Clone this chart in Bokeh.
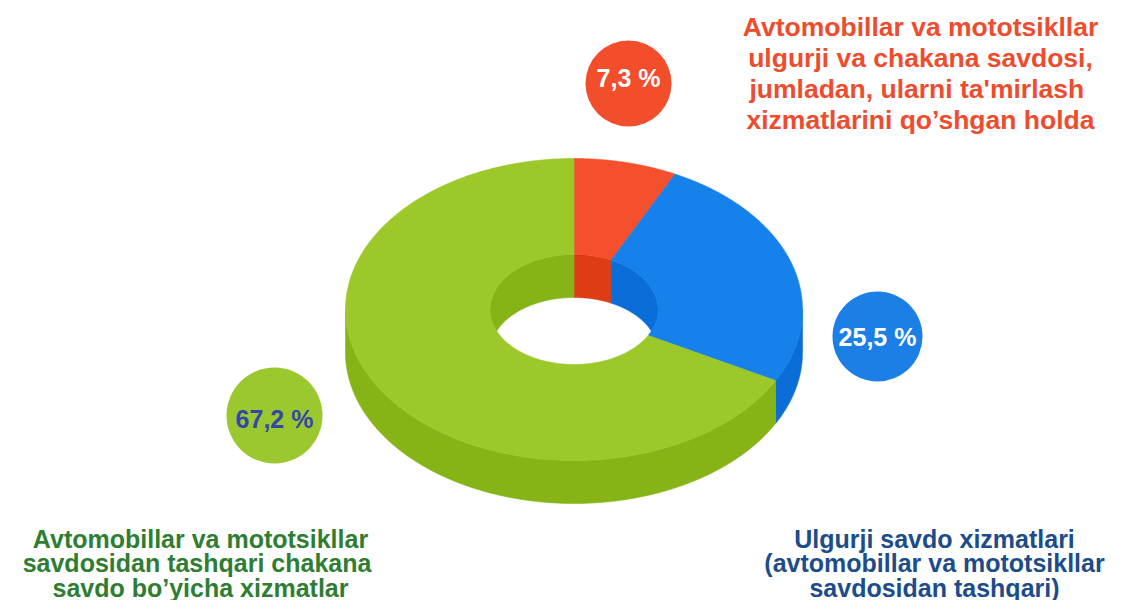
import numpy as np
from bokeh.plotting import figure
from bokeh.models import Range1d, ColumnDataSource
from bokeh.core.properties import value
from bokeh.embed import file_html
from bokeh.resources import INLINE

# ---------------- data ----------------
category_lines = [
    ["Avtomobillar va mototsikllar",
     "ulgurji va chakana savdosi,",
     "jumladan, ularni  ta'mirlash",
     "xizmatlarini qo\u2019shgan holda"],
    ["Ulgurji savdo xizmatlari",
     "(avtomobillar va mototsikllar",
     "savdosidan tashqari)"],
    ["Avtomobillar va mototsikllar",
     "savdosidan  tashqari chakana",
     "savdo bo\u2019yicha xizmatlar"],
]
values = [7.3, 25.5, 67.2]
pct_labels = ["7,3 %", "25,5 %", "67,2 %"]

# ---------------- styles ----------------
top_colors = ["#F5502E", "#1681EA", "#9CC82A"]
side_colors = ["#DE3C14", "#0B6ED8", "#86B416"]
inner_colors = ["#DE3C14", "#0B6ED8", "#86B416"]
bubble_colors = ["#F24E2C", "#1C7FE6", "#9BC72F"]
pct_text_colors = ["#FFFFFF", "#FFFFFF", "#3347A8"]
cat_text_colors = ["#EE4C2E", "#1C4C8A", "#2E7D32"]

# layout (pixel-like coordinates, y downwards)
W, H = 1106, 600
CX, CY = 573.5, 309.0
RX, RY = 228.5, 151.0
RXI, RYI = 84.0, 55.0
DEPTH = 43.0
bubble_pos = [(628, 83, 43), (877, 336, 45), (274, 415, 48)]
pct_text_y = [77, 336, 418]
cat_anchor = [(920, 26), (934, 538), (200, 538)]
line_step = [31, 24.5, 24.5]
cat_font = ["26.5px", "25px", "25px"]

FONT = value("Liberation Sans")

p = figure(width=W, height=H, output_backend="svg", toolbar_location=None,
           x_range=Range1d(0, W), y_range=Range1d(H, 0),
           min_border=0, outline_line_color=None,
           x_axis_location=None, y_axis_location=None,
           background_fill_color="white", border_fill_color="white")
p.grid.visible = False


def arc(rx_, ry_, t0, t1, dy=0.0, n=240):
    ts = np.radians(np.linspace(t0, t1, n))
    return CX + rx_ * np.cos(ts), CY - ry_ * np.sin(ts) + dy


def intersect(lo, hi, wlo, whi):
    out = []
    for k in range(-2, 3):
        a, b = max(lo, wlo + 360 * k), min(hi, whi + 360 * k)
        if b - a > 1e-6:
            out.append((a, b))
    return out


total = float(sum(values))
angles = []
cur = 90.0
for v in values:
    nxt = cur - 360.0 * v / total
    angles.append((nxt, cur))  # (lo, hi)
    cur = nxt

side_xs, side_ys, side_c = [], [], []
inner_xs, inner_ys, inner_c = [], [], []
top_xs, top_ys, top_c = [], [], []

for i, (lo, hi) in enumerate(angles):
    # outer front wall
    for a, b in intersect(lo, hi, -180, 0):
        x1, y1 = arc(RX, RY, b, a)
        x2, y2 = arc(RX, RY, a, b, DEPTH)
        side_xs.append(list(np.concatenate([x1, x2])))
        side_ys.append(list(np.concatenate([y1, y2])))
        side_c.append(side_colors[i])
    # inner back wall (visible through the hole)
    for a, b in intersect(lo, hi, 0, 180):
        x1, y1 = arc(RXI, RYI, b, a)
        x2, y2 = arc(RXI, RYI, a, b, DEPTH)
        inner_xs.append(list(np.concatenate([x1, x2])))
        inner_ys.append(list(np.concatenate([y1, y2])))
        inner_c.append(inner_colors[i])
    # top face
    x1, y1 = arc(RX, RY, hi, lo)
    x2, y2 = arc(RXI, RYI, lo, hi)
    top_xs.append(list(np.concatenate([x1, x2])))
    top_ys.append(list(np.concatenate([y1, y2])))
    top_c.append(top_colors[i])

p.patches(side_xs, side_ys, fill_color=side_c, line_color=side_c, line_width=0.6)
p.patches(inner_xs, inner_ys, fill_color=inner_c, line_color=inner_c, line_width=0.6)
p.patches(top_xs, top_ys, fill_color=top_c, line_color=top_c, line_width=0.6)

# bubbles with percentages
bsrc = ColumnDataSource(dict(
    x=[b[0] for b in bubble_pos], y=[b[1] for b in bubble_pos],
    r=[b[2] for b in bubble_pos], c=bubble_colors,
    ty=pct_text_y, t=pct_labels, tc=pct_text_colors))
p.circle(x="x", y="y", radius="r", fill_color="c", line_color=None, source=bsrc)
p.text(x="x", y="ty", text="t", text_color="tc", source=bsrc,
       text_font=FONT, text_font_style="bold", text_font_size="25px",
       text_align="center", text_baseline="middle")

# category labels
for i, lines in enumerate(category_lines):
    ax, ay = cat_anchor[i]
    p.text(x=[ax] * len(lines),
           y=[ay + j * line_step[i] for j in range(len(lines))],
           text=lines, text_color=cat_text_colors[i],
           text_font=FONT, text_font_style="bold", text_font_size=cat_font[i],
           text_align="center", text_baseline="middle")

open("out.html", "w").write(file_html(p, INLINE))
